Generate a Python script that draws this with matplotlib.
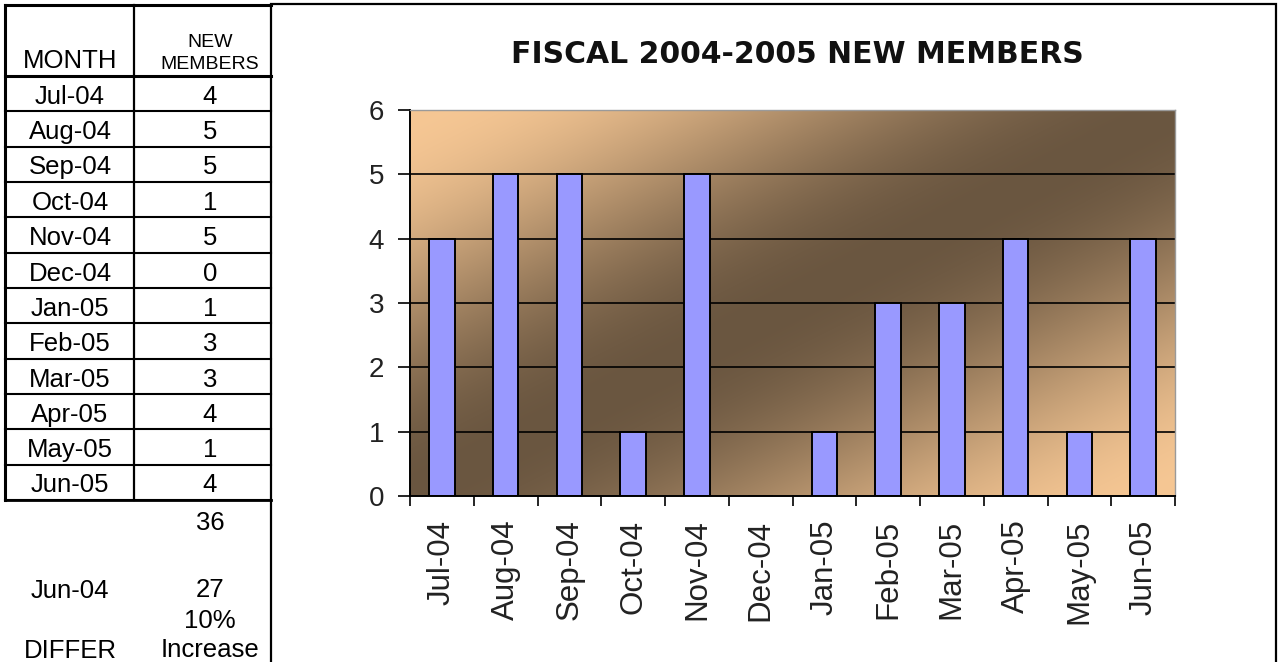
import numpy as np
import matplotlib
matplotlib.use("Agg")
import matplotlib.pyplot as plt
from matplotlib.lines import Line2D
from matplotlib.patches import Rectangle

# ---- data -------------------------------------------------------------
months = ["Jul-04", "Aug-04", "Sep-04", "Oct-04", "Nov-04", "Dec-04",
          "Jan-05", "Feb-05", "Mar-05", "Apr-05", "May-05", "Jun-05"]
new_members = [4, 5, 5, 1, 5, 0, 1, 3, 3, 4, 1, 4]
yticks = [0, 1, 2, 3, 4, 5, 6]
prior_label = "Jun-04"
prior_total = 27
change_text = "10%"
change_word = "Increase"
diff_label = "DIFFER"
title = "FISCAL 2004-2005 NEW MEMBERS"

# ---- figure in pixel units -------------------------------------------
W, H = 1283, 662
fig = plt.figure(figsize=(W / 100, H / 100), dpi=100)
fig.patch.set_facecolor("white")


def fx(x):
    return x / W


def fy(y):
    return 1 - y / H


def fline(x0, y0, x1, y1, lw, color="black"):
    fig.add_artist(Line2D([fx(x0), fx(x1)], [fy(y0), fy(y1)],
                          transform=fig.transFigure, lw=lw, color=color,
                          solid_capstyle="projecting"))


def ftext(x, y, s, size=18.5, **kw):
    fig.text(fx(x), fy(y), s, fontsize=size, family="Liberation Sans",
             ha="center", va="baseline", color="black", **kw)


# ---- spreadsheet table ------------------------------------------------
tl, tm, tr = 5, 134, 271
top, head_bot = 5, 76
row_h = (500 - head_bot) / len(months)
c1, c2 = 70, 210

# header
ftext(c1, 68, "MONTH")
ftext(c2, 47, "NEW", size=14)
ftext(c2, 69, "MEMBERS", size=14)

for i, (m, v) in enumerate(zip(months, new_members)):
    bottom = head_bot + (i + 1) * row_h
    ftext(c1, bottom - 7.5, m)
    ftext(c2, bottom - 7.5, str(v))
    fline(tl, bottom, tr, bottom, 1.5)

table_bottom = head_bot + len(months) * row_h
fline(tl, top, tr, top, 2.2)
fline(tl, head_bot, tr, head_bot, 2.2)
fline(tl, top, tl, table_bottom, 2.2)
fline(tm, top, tm, table_bottom, 1.6)
fline(tl, table_bottom, tr, table_bottom, 2.0)

# summary cells below the table
ftext(c2, 530, str(sum(new_members)))
ftext(c1, 598, prior_label)
ftext(c2, 597, str(prior_total))
ftext(c2, 628, change_text)
ftext(c1, 658, diff_label)
ftext(c2, 657, change_word)

# ---- chart frame and title -------------------------------------------
fig.add_artist(Rectangle((fx(271), fy(700)), fx(1276) - fx(271),
                         fy(4) - fy(700), transform=fig.transFigure,
                         fill=False, ec="black", lw=1.6))
fig.text(fx(797), fy(63), title, fontsize=21.5, family="DejaVu Sans",
         fontweight="bold", ha="center", va="baseline", color="#111111")

# ---- bar chart --------------------------------------------------------
px0, px1, py0, py1 = 410, 1175, 110, 496
ax = fig.add_axes([fx(px0), fy(py1), fx(px1) - fx(px0), fy(py0) - fy(py1)])
n = len(months)
x = np.arange(n)
ax.set_xlim(-0.5, n - 0.5)
ax.set_ylim(yticks[0], yticks[-1])

# diagonal gradient plot-area fill: light corners, soft dark band across middle
light = np.array([246, 199, 148]) / 255
dark = np.array([106, 86, 64]) / 255
gx = np.linspace(0, 1, 400)[None, :]
gt = np.linspace(0, 1, 200)[:, None]
s = (gx + gt) / 2
w = 0.5 * (1 + np.cos(np.pi * (2 * s - 1)))
grad = light[None, None, :] * (1 - w[..., None]) + dark[None, None, :] * w[..., None]
ax.imshow(grad, extent=(0, 1, 0, 1), transform=ax.transAxes,
          aspect="auto", zorder=0, interpolation="bilinear")

for yv in yticks[1:-1]:
    ax.axhline(yv, color="black", lw=1.2, zorder=1)

ax.bar(x, new_members, width=0.4, color="#9999FF", edgecolor="black",
       linewidth=1.4, zorder=2)

ax.set_yticks(yticks)
ax.set_yticklabels([str(t) for t in yticks], fontsize=20,
                   family="Liberation Sans", color="#222222")
ax.tick_params(axis="y", length=8.6, width=1.2, pad=10, color="black")

ax.set_xticks(x)
ax.set_xticklabels(months, rotation=90, fontsize=22.5,
                   family="Liberation Sans", color="#222222",
                   ha="center", va="top")
ax.set_xticks(np.arange(n + 1) - 0.5, minor=True)
ax.tick_params(axis="x", which="major", length=0, pad=17)
ax.tick_params(axis="x", which="minor", length=7.5, width=1.2, color="black")

for side in ("left", "bottom"):
    ax.spines[side].set_color("black")
    ax.spines[side].set_linewidth(1.4)
for side in ("top", "right"):
    ax.spines[side].set_color("#9a9a9a")
    ax.spines[side].set_linewidth(1.0)

fig.savefig("out.png", dpi=100)
